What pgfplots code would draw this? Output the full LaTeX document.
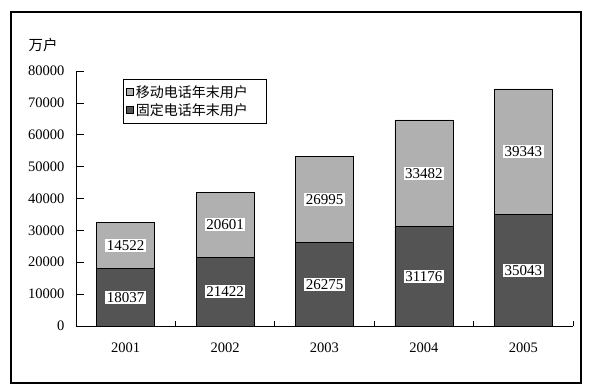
\documentclass[border=0pt]{standalone}
\usepackage{pgfplots}
\usepackage{pgfplotstable}
\pgfplotsset{compat=1.18}
\usepackage{fontspec}
\setmainfont{Liberation Serif}
\newfontfamily\cjk{Noto Sans CJK SC}
\definecolor{mobile}{gray}{0.69}
\definecolor{fixedc}{gray}{0.33}
\pgfplotsset{mylegend/.style={legend image code/.code={\draw[##1, line width=0.5pt] (0pt,-3.5pt) rectangle (7pt,3.5pt);}}}
\pgfplotstableread{
x fixed mobile
0 18037 14522
1 21422 20601
2 26275 26995
3 31176 33482
4 35043 39343
}\data
\begin{document}
\begin{tikzpicture}[x=1pt,y=1pt]
\path[use as bounding box] (0,0) rectangle (592,390);
\draw[line width=1.3pt] (11,7) rectangle (581,378);
\node[font=\cjk\fontsize{14.5}{16}\selectfont] at (43,345) {万户};
\begin{axis}[
  at={(76pt,64pt)}, anchor=south west, scale only axis,
  width=497pt, height=255pt,
  xmin=-0.5, xmax=4.5, ymin=0, ymax=80000,
  axis lines*=left,
  axis line style={line width=0.8pt},
  ybar stacked, bar width=58pt,
  xtick={0,1,2,3,4},
  xticklabels={2001,2002,2003,2004,2005},
  minor xtick={0.5,1.5,2.5,3.5,4.5},
  every major x tick/.append style={draw=none},
  ytick={0,10000,...,80000},
  tick align=inside,
  major tick length=8pt,
  minor tick length=5pt,
  tick style={black, line width=0.6pt},
  scaled y ticks=false,
  /pgf/number format/.cd, 1000 sep={}, assume math mode=true, /pgfplots/.cd,
  tick label style={font=\fontsize{14.5}{16}\selectfont},
  yticklabel style={xshift=-8pt},
  xticklabel style={yshift=-13pt},
  reverse legend,
  legend cell align=left,
  legend style={at={(0.0946,0.969)}, anchor=north west, draw=black, line width=0.6pt,
     font=\cjk\fontsize{14}{16}\selectfont, inner xsep=3pt, inner ysep=4pt, row sep=1pt},
  clip=false,
]
\addplot[fill=fixedc, draw=black, line width=0.6pt, mylegend]
  table[x=x, y=fixed] {\data};
\addlegendentry{固定电话年末用户\kern13pt\null}
\addplot[fill=mobile, draw=black, line width=0.6pt, mylegend]
  table[x=x, y=mobile] {\data};
\addlegendentry{移动电话年末用户\kern13pt\null}
\end{axis}
\begin{axis}[
  at={(76pt,64pt)}, anchor=south west, scale only axis,
  width=497pt, height=255pt,
  xmin=-0.5, xmax=4.5, ymin=0, ymax=80000,
  hide axis, clip=false,
  nodes near coords={\pgfplotspointmeta},
  point meta=explicit symbolic,
  every node near coord/.style={fill=white, text=black, inner sep=1.5pt, anchor=center,
     font=\fontsize{15}{17}\selectfont},
]
\addplot[draw=none, mark=none] table[x=x, y expr=\thisrow{fixed}/2, meta=fixed] {\data};
\addplot[draw=none, mark=none] table[x=x, y expr=\thisrow{fixed}+\thisrow{mobile}/2, meta=mobile] {\data};
\end{axis}
\end{tikzpicture}
\end{document}
